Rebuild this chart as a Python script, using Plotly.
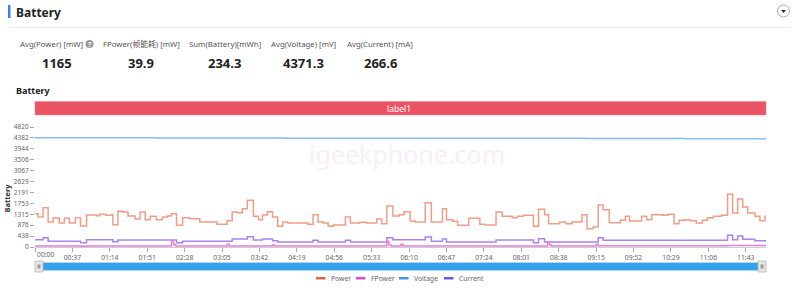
import plotly.graph_objects as go

# ---------------- data ----------------
END_MIN = 723  # last sample (minutes since 00:00)

power_start = [0, 3, 8, 13, 18, 24, 29, 34, 40, 45, 51, 61, 64, 70, 76, 77, 82, 87, 92, 99,
               104, 109, 114, 120, 126, 131, 135, 140, 146, 153, 163, 180, 190, 195, 200, 205,
               210, 216, 221, 225, 230, 235, 240, 245, 250, 270, 275, 280, 285, 290, 295, 307,
               312, 321, 328, 338, 343, 348, 354, 360, 365, 371, 376, 386, 392, 403, 407, 413,
               418, 429, 440, 445, 456, 462, 472, 477, 483, 493, 498, 504, 508, 519, 525, 531,
               541, 546, 552, 557, 562, 568, 579, 584, 588, 600, 605, 610, 621, 626, 632, 637,
               643, 648, 654, 660, 665, 671, 679, 685, 690, 695, 700, 705, 712, 717, 722]
power_val = [1339, 1205, 1580, 1004, 1165, 964, 1152, 964, 1178, 844, 1285, 1259, 1312, 1272,
             1299, 897, 1433, 1406, 1245, 1125, 1406, 1098, 1232, 1098, 1205, 1245, 1339, 870,
             1178, 1138, 1004, 910, 1058, 1406, 1379, 1540, 1875, 1232, 1098, 1285, 1419, 1205,
             830, 1004, 964, 910, 1299, 1004, 964, 830, 884, 1205, 964, 991, 964, 1125, 937,
             1647, 1245, 1299, 1419, 1044, 1004, 1781, 1004, 1540, 1098, 1031, 870, 1152, 910,
             884, 1406, 1232, 1178, 1232, 1272, 830, 1513, 1299, 937, 1004, 937, 1004, 1299,
             736, 803, 1687, 1500, 977, 1071, 1232, 1044, 1232, 1098, 1299, 1272, 1312, 937,
             1071, 1098, 1058, 964, 1071, 1178, 1232, 1272, 2116, 1366, 1928, 1607, 1366, 1232,
             1058, 1232]

fpower_start = [0, 45, 51, 135, 137, 139, 190, 192, 235, 237, 348, 350, 352, 362, 364, 507,
                509, 511, 555, 557, 685]
fpower_val = [45, 30, 45, 255, 100, 40, 107, 40, 80, 40, 228, 80, 40, 107, 40, 200, 80, 40,
              107, 50, 60]

voltage_start = [0, 119, 247, 396, 544, 643]
voltage_val = [4390, 4380, 4372, 4365, 4358, 4350]

current_start = [0, 8, 13, 45, 51, 77, 82, 140, 146, 195, 210, 216, 225, 235, 240, 275, 280,
                 307, 312, 348, 354, 386, 392, 403, 407, 456, 493, 498, 504, 557, 562, 685,
                 690, 695, 700, 712, 722]
current_val = [295, 375, 228, 174, 295, 215, 281, 174, 228, 321, 415, 281, 321, 255, 200, 268,
               200, 268, 200, 375, 295, 402, 228, 321, 200, 281, 174, 335, 200, 375, 268, 469,
               295, 442, 308, 255, 240]

y_ticks = [0, 438, 876, 1315, 1753, 2191, 2629, 3067, 3506, 3944, 4382, 4820]
x_tick_min = [0, 37, 74, 111, 148, 185, 222, 259, 296, 333, 370, 407, 444, 481, 518, 555,
              592, 629, 666, 703]
x_tick_text = ["00:00", "00:37", "01:14", "01:51", "02:28", "03:05", "03:42", "04:19", "04:56",
               "05:33", "06:10", "06:47", "07:24", "08:01", "08:38", "09:15", "09:52", "10:29",
               "11:06", "11:43"]

stat_labels = ["Avg(Power) [mW]", "FPower(帧能耗) [mW]", "Sum(Battery)[mWh]",
               "Avg(Voltage) [mV]", "Avg(Current) [mA]"]
stat_values = ["1165", "39.9", "234.3", "4371.3", "266.6"]

series_names = ["Power", "FPower", "Voltage", "Current"]
line_colors = ["#f29c87", "#e27fd9", "#86bbf6", "#a784f1"]
legend_colors = ["#e8604c", "#d84fc9", "#3f94f1", "#7b52f0"]

# ---------------- layout geometry ----------------
W, H = 800, 295
L, R, T, B = 35, 34, 127, 48
PW, PH = W - L - R, H - T - B
FONT = "Noto Sans, Noto Sans CJK SC, sans-serif"


def px(x):
    return (x - L) / PW


def py(y):
    return (H - B - y) / PH


fig = go.Figure()

series = [(power_start, power_val), (fpower_start, fpower_val),
          (voltage_start, voltage_val), (current_start, current_val)]
order = [2, 0, 3, 1]
for i in order:
    s, v = series[i]
    xs = list(s) + [END_MIN]
    ys = list(v) + [v[-1]]
    fig.add_trace(go.Scatter(x=xs, y=ys, mode="lines", name=series_names[i],
                             line=dict(color=line_colors[i], width=1.5, shape="hv"),
                             showlegend=False, hoverinfo="skip"))

shapes = []
ann = []

# header
shapes.append(dict(type="rect", xref="paper", yref="paper", x0=px(8), x1=px(10.5),
                   y0=py(18), y1=py(5), fillcolor="#3d7bf7", line_width=0, layer="above"))
ann.append(dict(text="<b>Battery</b>", x=px(14), y=py(12), xanchor="left", yanchor="middle",
                font=dict(size=12, color="#222", family=FONT)))
shapes.append(dict(type="line", xref="paper", yref="paper", x0=px(8), x1=px(791),
                   y0=py(27.5), y1=py(27.5), line=dict(color="#eeeeee", width=1)))
shapes.append(dict(type="circle", xref="paper", yref="paper", x0=px(777.5), x1=px(789.5),
                   y0=py(17), y1=py(5), line=dict(color="#aaaaaa", width=1),
                   fillcolor="white"))
shapes.append(dict(type="path", xref="paper", yref="paper",
                   path=f"M {px(781)} {py(10)} L {px(786)} {py(10)} L {px(783.5)} {py(13)} Z",
                   fillcolor="#333", line_width=0))

# stats
label_cx = [51, 141, 225, 303.5, 380]
value_cx = [57, 141, 224.5, 303, 380]
for cx, vx, lab, val in zip(label_cx, value_cx, stat_labels, stat_values):
    ann.append(dict(text=lab, x=px(cx), y=py(44), xanchor="center",
                    yanchor="middle", font=dict(size=7.8, color="#555", family=FONT)))
    ann.append(dict(text=f"<b>{val}</b>", x=px(vx), y=py(63),
                    xanchor="center", yanchor="middle",
                    font=dict(size=13, color="#222", family=FONT)))
# question icon
shapes.append(dict(type="circle", xref="paper", yref="paper", x0=px(85.5), x1=px(93.5),
                   y0=py(48), y1=py(40), fillcolor="#999", line_width=0))
ann.append(dict(text="<b>?</b>", x=px(89.5), y=py(44), xanchor="center", yanchor="middle",
                font=dict(size=6.5, color="white", family=FONT)))

# chart subtitle
ann.append(dict(text="<b>Battery</b>", x=px(14), y=py(90), xanchor="left", yanchor="middle",
                font=dict(size=9, color="#222", family=FONT)))

# label band
shapes.append(dict(type="rect", xref="paper", yref="paper", x0=0, x1=1, y0=py(115),
                   y1=py(101.5), fillcolor="#ec5465", line=dict(color="#f08090", width=0.5)))
ann.append(dict(text="label1", x=px(399), y=py(108.3), xanchor="center", yanchor="middle",
                font=dict(size=8.5, color="white", family=FONT)))

# watermark
ann.append(dict(text="igeekphone.com", x=px(407), y=py(154), xanchor="center",
                yanchor="middle", font=dict(size=25, color="#f7eff7", family=FONT)))

# y axis title
ann.append(dict(text="<b>Battery</b>", x=px(6.5), y=py(198), xanchor="center",
                yanchor="middle", textangle=-90,
                font=dict(size=7.5, color="#333", family=FONT)))

# first x label left aligned
ann.append(dict(text=x_tick_text[0], x=px(35), y=py(254), xanchor="left", yanchor="middle",
                font=dict(size=6.8, color="#666", family=FONT)))

# data zoom slider
shapes.append(dict(type="rect", xref="paper", yref="paper", x0=px(38), x1=px(764),
                   y0=py(270.5), y1=py(262.5), fillcolor="#35a2ee",
                   line=dict(color="#d0d8e0", width=0.5)))
for hx in (39, 762):
    shapes.append(dict(type="rect", xref="paper", yref="paper", x0=px(hx - 4), x1=px(hx + 4),
                       y0=py(272), y1=py(261), fillcolor="#e6e6e6",
                       line=dict(color="#b5b5b5", width=0.8)))
    shapes.append(dict(type="rect", xref="paper", yref="paper", x0=px(hx - 1.5),
                       x1=px(hx + 1.5), y0=py(268.5), y1=py(264.5), fillcolor="#9a9a9a",
                       line_width=0))

# legend (manual)
leg_x = [316, 356, 399, 444]
for lx, name, col in zip(leg_x, series_names, legend_colors):
    shapes.append(dict(type="rect", xref="paper", yref="paper", x0=px(lx), x1=px(lx + 9.5),
                       y0=py(279.5), y1=py(277), fillcolor=col, line_width=0))
    ann.append(dict(text=name, x=px(lx + 13), y=py(278.3), xanchor="left", yanchor="middle",
                    font=dict(size=6.8, color="#666", family=FONT)))

for a in ann:
    a.setdefault("xref", "paper")
    a.setdefault("yref", "paper")
    a.setdefault("showarrow", False)

fig.update_layout(
    width=W, height=H,
    margin=dict(l=L, r=R, t=T, b=B, pad=0),
    paper_bgcolor="white", plot_bgcolor="white",
    font=dict(family=FONT, size=7, color="#666"),
    shapes=shapes, annotations=ann, showlegend=False,
    xaxis=dict(range=[0, END_MIN], tickmode="array", tickvals=x_tick_min,
               ticktext=[""] + x_tick_text[1:], ticks="outside", ticklen=4,
               tickcolor="#aaa", showline=True, linecolor="#cfcfcf", linewidth=1,
               showgrid=False, zeroline=False, tickfont=dict(size=6.8, color="#666"),
               fixedrange=True),
    yaxis=dict(range=[0, 4820], tickmode="array", tickvals=y_ticks,
               ticktext=[str(t) for t in y_ticks], ticks="outside", ticklen=4,
               tickcolor="#aaa", showline=False, showgrid=False, zeroline=False,
               tickfont=dict(size=6.5, color="#666"), fixedrange=True),
)

fig.write_html("out.html", config={"displayModeBar": False})
